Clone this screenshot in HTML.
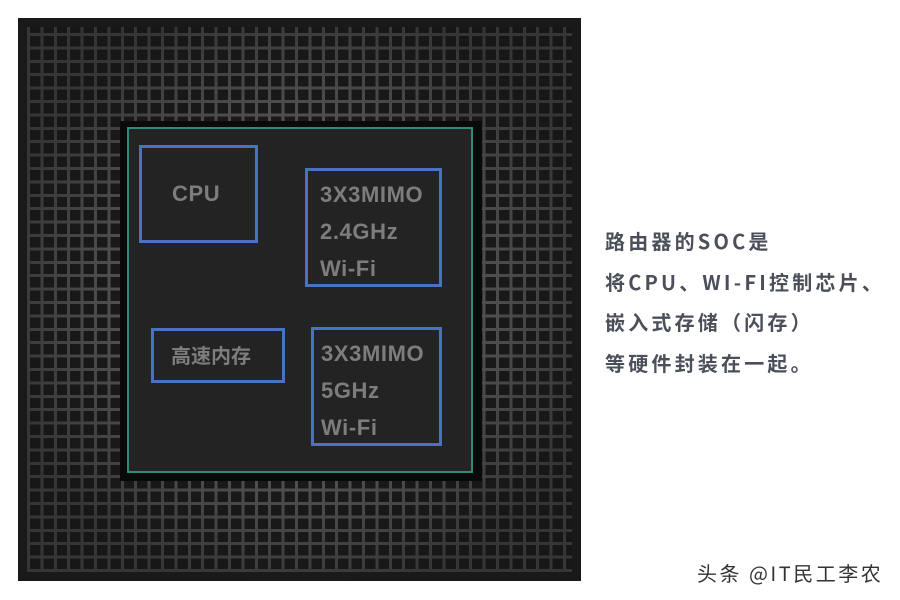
<!DOCTYPE html>
<html><head><meta charset="utf-8"><style>
body{margin:0;width:900px;height:600px;background:#fff;position:relative;overflow:hidden;font-family:"Liberation Sans","Noto Sans CJK SC",sans-serif}
.outer{position:absolute;left:18px;top:18px;width:563px;height:563px;background:#1e1e1e}
.grid{position:absolute;left:27px;top:27px;width:545px;height:545px;
background:
repeating-linear-gradient(90deg,#595959 0 3px,transparent 3px 13.4px),
repeating-linear-gradient(0deg,#595959 0 3px,#1a1a1a 3px 13.4px);}
.fade{position:absolute;left:18px;top:18px;width:563px;height:563px;background:radial-gradient(circle at 50% 50%,rgba(0,0,0,0) 35%,rgba(20,20,20,0.5) 75%)}
.chipb{position:absolute;left:120px;top:121px;width:362px;height:360px;background:#0a0a0a}
.chip{position:absolute;left:127px;top:127px;width:346px;height:346px;border:2px solid #2f8a78;background:#232323;box-sizing:border-box}
.b{position:absolute;border:3px solid #4a72c2;box-sizing:border-box;color:#7d7d7d;font-weight:bold;font-size:22px;letter-spacing:0.6px}
.side{position:absolute;left:605px;top:221px;color:#4a4f59;font-weight:bold;font-size:20px;line-height:40.5px;font-family:"Noto Sans CJK SC",sans-serif;letter-spacing:3.2px}
.ft{position:absolute;left:697px;top:558px;font-size:20px;color:#333;font-family:"Noto Sans CJK SC",sans-serif;letter-spacing:2.5px}
</style></head><body>
<div class="outer"></div><div class="grid"></div><div class="fade"></div>
<div class="chipb"></div><div class="chip"></div>
<div class="b" style="left:139px;top:145px;width:119px;height:98px"><div style="position:absolute;left:30px;top:33px">CPU</div></div>
<div class="b" style="left:305px;top:168px;width:137px;height:119px;line-height:37px"><div style="position:absolute;left:12px;top:5px">3X3MIMO<br>2.4GHz<br>Wi-Fi</div></div>
<div class="b" style="left:151px;top:328px;width:134px;height:55px"><div style="position:absolute;left:17px;top:11px;font-size:20px;font-family:'Noto Sans CJK SC',sans-serif;line-height:26px;letter-spacing:0">高速内存</div></div>
<div class="b" style="left:311px;top:327px;width:131px;height:119px;line-height:37px"><div style="position:absolute;left:7px;top:5px">3X3MIMO<br>5GHz<br>Wi-Fi</div></div>
<div class="side">路由器的SOC是<br>将CPU、WI-FI控制芯片、<br>嵌入式存储（闪存）<br>等硬件封装在一起。</div>
<div class="ft">头条 @IT民工李农</div>
</body></html>
